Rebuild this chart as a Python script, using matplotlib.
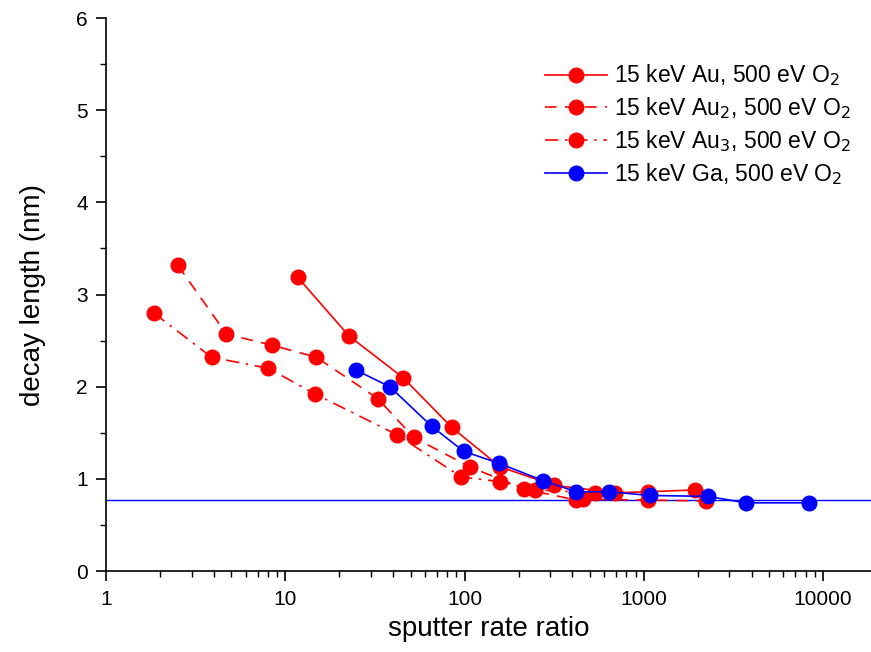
import numpy as np
import matplotlib
matplotlib.use("Agg")
from matplotlib import pyplot as plt
from matplotlib.ticker import FuncFormatter, MultipleLocator, LogLocator

plt.rcParams['font.family'] = ['Liberation Sans', 'DejaVu Sans']

# sputter rate ratio / decay length (nm)
au_x = [11.7, 22.7, 45.3, 84.7, 158, 316, 690, 1050, 1920]
au_y = [3.19, 2.55, 2.10, 1.56, 1.13, 0.93, 0.85, 0.86, 0.88]

au2_x = [2.51, 4.7, 8.47, 14.9, 32.9, 52, 107, 215, 420, 455, 1050, 2230]
au2_y = [3.32, 2.57, 2.45, 2.32, 1.87, 1.45, 1.13, 0.89, 0.77, 0.78, 0.77, 0.76]

au3_x = [1.85, 3.88, 8.05, 14.7, 41.9, 96, 158, 247, 535]
au3_y = [2.80, 2.32, 2.20, 1.92, 1.48, 1.02, 0.97, 0.88, 0.85]

ga_x = [24.8, 38.3, 65.6, 98.7, 155, 275, 420, 642, 1080, 2280, 3700, 8330]
ga_y = [2.18, 2.00, 1.57, 1.30, 1.17, 0.98, 0.86, 0.86, 0.82, 0.81, 0.74, 0.74]

baseline = 0.77

fig = plt.figure(figsize=(8.71, 6.52), dpi=100)
ax = fig.add_axes([0.1217, 0.1242, 0.8783, 0.848])

ms = 10.5
lw = 1.2
ax.axhline(baseline, color='blue', lw=1.0)
ax.plot(au_x, au_y, '-', color='red', lw=lw, marker='o', ms=ms,
        label='15 keV Au, 500 eV O$_2$')
ax.plot(au2_x, au2_y, color='red', lw=lw, dashes=(7, 5), marker='o', ms=ms,
        label='15 keV Au$_2$, 500 eV O$_2$')
ax.plot(au3_x, au3_y, color='red', lw=lw, dashes=(8, 4, 1.5, 4), marker='o', ms=ms,
        label='15 keV Au$_3$, 500 eV O$_2$')
ax.plot(ga_x, ga_y, '-', color='blue', lw=lw, marker='o', ms=ms,
        label='15 keV Ga, 500 eV O$_2$')

ax.set_xscale('log')
ax.set_xlim(1, 18500)
ax.set_ylim(0, 6)
ax.yaxis.set_major_locator(MultipleLocator(1))
ax.yaxis.set_minor_locator(MultipleLocator(0.5))
ax.xaxis.set_major_locator(LogLocator(base=10))
ax.xaxis.set_minor_locator(LogLocator(base=10, subs=np.arange(2, 10)))
ax.xaxis.set_major_formatter(FuncFormatter(lambda v, p: '%d' % round(v)))

for s in ('top', 'right'):
    ax.spines[s].set_visible(False)
for s in ('left', 'bottom'):
    ax.spines[s].set_linewidth(1.2)
ax.tick_params(which='major', length=7, width=1.2, labelsize=15, direction='out')
ax.tick_params(axis='x', which='major', pad=7)
ax.tick_params(axis='y', which='major', pad=6)
ax.tick_params(which='minor', length=4, width=1.0, direction='out')

ax.set_xlabel('sputter rate ratio', fontsize=20, labelpad=5)
ax.set_ylabel('decay length (nm)', fontsize=20, labelpad=22)

ax.legend(loc='upper right', bbox_to_anchor=(1.0, 0.957), frameon=False,
          fontsize=16.5, handlelength=2.7, handletextpad=0.3,
          labelspacing=0.3, numpoints=1)

fig.savefig('out.png', dpi=100)
